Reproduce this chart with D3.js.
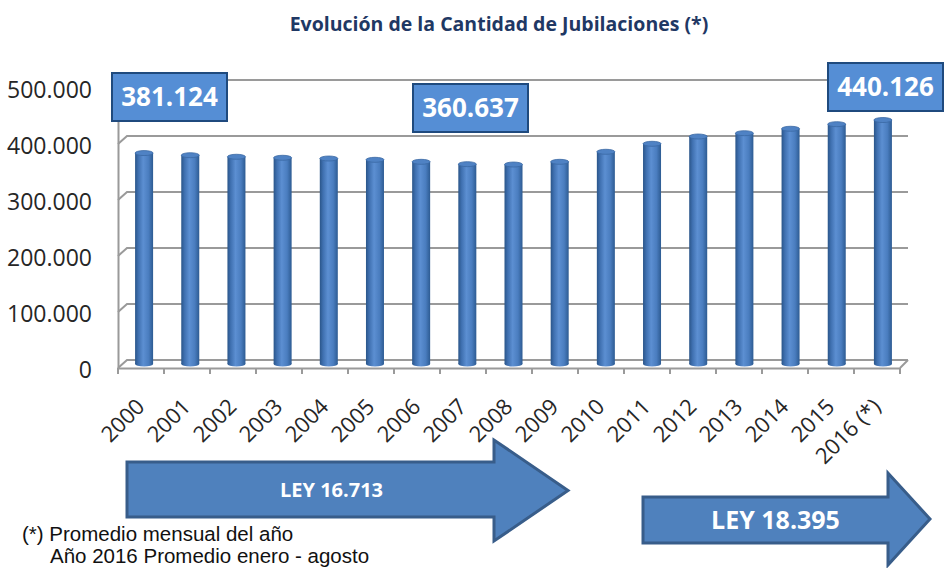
<!DOCTYPE html>
<html>
<head>
<meta charset="utf-8">
<script src="https://cdn.jsdelivr.net/npm/d3@7"></script>
<style>
  body { margin: 0; background: #fff; }
  svg { display: block; }
</style>
</head>
<body>
<script>
// values
const years = ["2000", "2001", "2002", "2003", "2004", "2005", "2006", "2007", "2008",
               "2009", "2010", "2011", "2012", "2013", "2014", "2015", "2016 (*)"];
const jubilaciones = [381124, 377300, 374500, 372700, 371400, 369100, 365500, 361300, 360637,
                      365500, 383400, 397700, 410700, 416600, 424500, 432700, 440126];
const yTicks = [0, 100000, 200000, 300000, 400000, 500000];
const calloutYears = ["2000", "2008", "2016 (*)"];
const leyes = ["LEY 16.713", "LEY 18.395"];
const notas = ["(*) Promedio mensual del año", "Año 2016 Promedio enero - agosto"];
const titulo = "Evolución de la Cantidad de Jubilaciones (*)";

const width = 944, height = 568;
const fmt = d3.formatLocale({ decimal: ",", thousands: ".", grouping: [3], currency: ["$", ""] }).format(",");

const svg = d3.select("body").append("svg").attr("width", width).attr("height", height);

// bar gradient (cylinder look)
const defs = svg.append("defs");
const grad = defs.append("linearGradient").attr("id", "cyl").attr("x1", 0).attr("x2", 1).attr("y1", 0).attr("y2", 0);
[[0, "#2a5589"], [0.18, "#3f70b0"], [0.45, "#5c8fd2"], [0.75, "#4a7dbf"], [1, "#2d5b92"]].forEach(function(s){
  grad.append("stop").attr("offset", s[0]).attr("stop-color", s[1]);
});

// 3D planes: front axis, mid (bars), back wall
const yBack = d3.scaleLinear().domain([0, 500000]).range([360, 80]);
const yFront = d3.scaleLinear().domain([0, 500000]).range([368, 88]);
const yMid = d3.scaleLinear().domain([0, 500000]).range([364, 84]);
const xFront = d3.scaleBand().domain(years).range([118, 900]);
const xBar = d3.scaleBand().domain(years).range([121, 906]);
const backLeft = 127, backRight = 908;

svg.append("text")
  .attr("x", 499).attr("y", 31)
  .attr("text-anchor", "middle")
  .style("font-family", "'Open Sans', sans-serif")
  .style("font-weight", "bold")
  .style("font-size", "19.5px")
  .style("fill", "#1f3864")
  .text(titulo);

// gridlines on back wall with the little depth segment
const grid = svg.append("g").attr("fill", "none").attr("stroke", "#9a9a9a").attr("stroke-width", 2);
yTicks.forEach(function(t){
  grid.append("path").attr("d", `M118,${yFront(t)}L${backLeft},${yBack(t)}L${backRight},${yBack(t)}`);
});
// floor front edge + right side
grid.append("path").attr("d", `M${xFront.range()[1]},${yFront(0)}L${backRight},${yBack(0)}`);

// y axis
const yAxis = svg.append("g")
  .attr("transform", "translate(118,0)")
  .call(d3.axisLeft(yFront).tickValues(yTicks).tickFormat(fmt).tickSize(0).tickPadding(26));
yAxis.select(".domain").attr("stroke", "#9a9a9a").attr("stroke-width", 2);
yAxis.selectAll("text")
  .attr("dy", "0.42em")
  .style("font-family", "'Open Sans', sans-serif")
  .style("font-size", "23px")
  .style("fill", "#262626");

// x axis
const xAxis = svg.append("g")
  .attr("transform", `translate(0,${yFront(0)})`)
  .call(d3.axisBottom(xFront).tickSize(0).tickSizeOuter(0));
xAxis.select(".domain").attr("stroke", "#9a9a9a").attr("stroke-width", 2);
xAxis.selectAll("text")
  .attr("x", 5).attr("y", 40).attr("dy", 0)
  .attr("text-anchor", "end")
  .attr("transform", "rotate(-45,5,40)")
  .style("font-family", "'Open Sans', sans-serif")
  .style("font-size", "22px")
  .style("fill", "#262626");
// ticks between categories
svg.append("g").selectAll("line")
  .data(d3.range(years.length + 1))
  .join("line")
  .attr("x1", i => xFront.range()[0] + i * xFront.step())
  .attr("x2", i => xFront.range()[0] + i * xFront.step())
  .attr("y1", yFront(0)).attr("y2", yFront(0) + 6)
  .attr("stroke", "#9a9a9a").attr("stroke-width", 2);

// cylinders
const barW = 18, ry = 2.5;
const bars = svg.append("g").selectAll("g")
  .data(years.map((y, i) => ({ year: y, value: jubilaciones[i] })))
  .join("g")
  .attr("transform", d => `translate(${xBar(d.year) + xBar.bandwidth() / 2},0)`);
bars.append("ellipse")
  .attr("cx", 0).attr("cy", yMid(0)).attr("rx", barW / 2).attr("ry", ry)
  .attr("fill", "url(#cyl)");
bars.append("rect")
  .attr("x", -barW / 2).attr("width", barW)
  .attr("y", d => yMid(d.value) + ry)
  .attr("height", d => yMid(0) - yMid(d.value) - ry)
  .attr("fill", "url(#cyl)");
bars.append("ellipse")
  .attr("cx", 0).attr("cy", d => yMid(d.value) + ry).attr("rx", barW / 2).attr("ry", ry)
  .attr("fill", "#4f82c4").attr("stroke", "#3a68a3").attr("stroke-width", 0.8);

// value callouts
const calloutBox = [[111, 72], [412, 83], [827, 62]];
const boxW = 117, boxH = 50;
calloutYears.forEach(function(y, i){
  const v = jubilaciones[years.indexOf(y)];
  const g = svg.append("g").attr("transform", `translate(${calloutBox[i][0]},${calloutBox[i][1]})`);
  g.append("rect").attr("x", 1).attr("y", 1).attr("width", boxW - 2).attr("height", boxH - 2)
    .attr("fill", "#558ed5").attr("stroke", "#1f4a7e").attr("stroke-width", 2);
  g.append("text").attr("x", boxW / 2).attr("y", boxH / 2).attr("dy", "0.36em")
    .attr("text-anchor", "middle")
    .style("font-family", "'Open Sans', sans-serif")
    .style("font-weight", "bold").style("font-size", "26px").style("fill", "#fff")
    .text(fmt(v));
});

// law arrows
const arrowShapes = [
  { x0: 127, bt: 462, bb: 517, hx: 494, ht: 440, hb: 541, tip: 568, font: 20 },
  { x0: 643, bt: 497, bb: 543, hx: 888, ht: 473, hb: 565, tip: 930, font: 25 }
];
const line = d3.line();
leyes.forEach(function(ley, i){
  const a = arrowShapes[i];
  const ty = (a.ht + a.hb) / 2;
  svg.append("path")
    .attr("d", line([[a.x0, a.bt], [a.hx, a.bt], [a.hx, a.ht], [a.tip, ty], [a.hx, a.hb], [a.hx, a.bb], [a.x0, a.bb]]) + "Z")
    .attr("fill", "#4f81bd").attr("stroke", "#385d8a").attr("stroke-width", 3).attr("stroke-linejoin", "miter");
  svg.append("text")
    .attr("x", (a.x0 + a.hx) / 2 + (i == 0 ? 21 : 10)).attr("y", (a.bt + a.bb) / 2).attr("dy", "0.36em")
    .attr("text-anchor", "middle")
    .style("font-family", "'Open Sans', sans-serif")
    .style("font-weight", "bold").style("font-size", a.font + "px").style("fill", "#fff")
    .text(ley);
});

// footnote
svg.append("g").selectAll("text")
  .data(notas)
  .join("text")
  .attr("x", (d, i) => i == 0 ? 22 : 50)
  .attr("y", (d, i) => 541 + i * 22)
  .style("font-family", "'Liberation Sans', Arial, sans-serif")
  .style("font-size", "20.5px")
  .style("fill", "#111")
  .text(d => d);
</script>
</body>
</html>
